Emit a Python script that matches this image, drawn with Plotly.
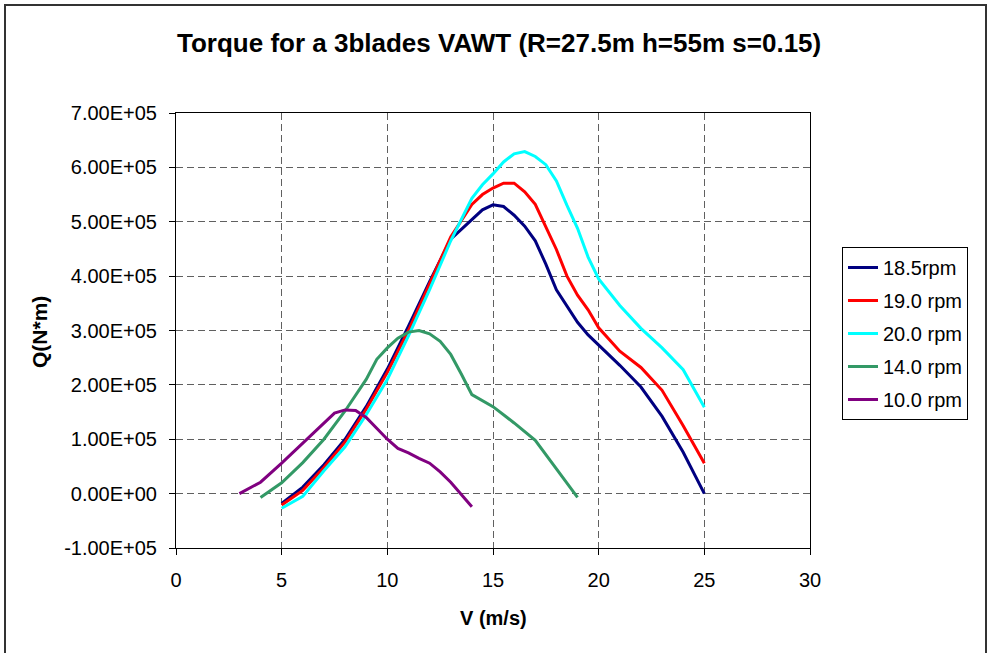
import plotly.graph_objects as go

# ---- data (torque values in units of 1e5 N*m) ----
v_185 = [5, 6, 7, 8, 9, 10, 11, 12, 13, 14, 14.5, 15, 15.5, 16, 16.5, 17, 17.5, 18, 18.5, 19, 19.5, 20, 21, 22, 23, 24, 25]
q_185 = [-0.18, 0.12, 0.53, 1.0, 1.6, 2.29, 3.08, 3.9, 4.68, 5.05, 5.22, 5.31, 5.28, 5.12, 4.92, 4.65, 4.22, 3.75, 3.45, 3.15, 2.92, 2.73, 2.36, 1.96, 1.42, 0.76, 0.0]

v_190 = [5, 6, 7, 8, 9, 10, 11, 12, 13, 14, 14.5, 15, 15.5, 16, 16.5, 17, 17.5, 18, 18.5, 19, 19.5, 20, 21, 22, 23, 24, 25]
q_190 = [-0.21, 0.06, 0.48, 0.95, 1.55, 2.23, 3.0, 3.87, 4.72, 5.32, 5.5, 5.62, 5.71, 5.71, 5.55, 5.32, 4.9, 4.49, 4.0, 3.65, 3.38, 3.05, 2.62, 2.32, 1.9, 1.25, 0.56]

v_200 = [5, 6, 7, 8, 9, 10, 11, 12, 13, 14, 14.5, 15, 15.5, 16, 16.5, 17, 17.5, 18, 18.5, 19, 19.5, 20, 21, 22, 23, 24, 25]
q_200 = [-0.27, -0.05, 0.42, 0.86, 1.45, 2.1, 2.9, 3.75, 4.65, 5.43, 5.68, 5.88, 6.1, 6.25, 6.29, 6.2, 6.05, 5.75, 5.3, 4.88, 4.35, 3.95, 3.46, 3.04, 2.68, 2.28, 1.59]

v_140 = [4, 5, 6, 7, 8, 9, 9.5, 10, 10.5, 11, 11.5, 12, 12.5, 13, 13.5, 14, 15, 16, 17, 18, 19]
q_140 = [-0.07, 0.2, 0.57, 1.0, 1.52, 2.1, 2.47, 2.68, 2.86, 2.97, 3.0, 2.94, 2.8, 2.56, 2.2, 1.82, 1.6, 1.3, 0.98, 0.45, -0.07]

v_100 = [3, 4, 5, 6, 7, 7.5, 8, 8.5, 9, 9.5, 10, 10.5, 11, 11.5, 12, 12.5, 13, 14]
q_100 = [0.0, 0.21, 0.56, 0.93, 1.3, 1.48, 1.54, 1.53, 1.4, 1.19, 1.0, 0.83, 0.75, 0.65, 0.56, 0.4, 0.21, -0.24]

series_names = ["18.5rpm", "19.0 rpm", "20.0 rpm", "14.0 rpm", "10.0 rpm"]
series_colors = ["#000080", "#FF0000", "#00FFFF", "#339966", "#800080"]

y_tick_vals = [-1e5, 0, 1e5, 2e5, 3e5, 4e5, 5e5, 6e5, 7e5]
y_tick_text = ["-1.00E+05", "0.00E+00", "1.00E+05", "2.00E+05", "3.00E+05",
               "4.00E+05", "5.00E+05", "6.00E+05", "7.00E+05"]
x_tick_vals = [0, 5, 10, 15, 20, 25, 30]

title_text = "Torque for a 3blades VAWT (R=27.5m h=55m s=0.15)"
x_title = "V (m/s)"
y_title = "Q(N*m)"

SCALE = 1e5
FONT = "Liberation Sans, Arial, sans-serif"

fig = go.Figure()
all_v = [v_185, v_190, v_200, v_140, v_100]
all_q = [q_185, q_190, q_200, q_140, q_100]
for i, (vv, qq) in enumerate(zip(all_v, all_q)):
    fig.add_trace(go.Scatter(
        x=vv, y=[q * SCALE for q in qq], mode="lines",
        name=series_names[i], legendgroup=f"g{i}",
        line=dict(color=series_colors[i], width=3),
    ))

L, R, T, B = 176, 181, 113, 105
W, H = 991, 653
pw = W - L - R
ph = H - T - B

def px_x(p):
    return (p - L) / pw

def px_y(p):
    return (H - B - p) / ph

fig.update_layout(
    width=W, height=H,
    margin=dict(l=L, r=R, t=T, b=B, pad=0),
    paper_bgcolor="white", plot_bgcolor="white",
    font=dict(family=FONT, size=20, color="black"),
    showlegend=True,
    legend=dict(
        x=px_x(842), y=px_y(247), xanchor="left", yanchor="top",
        bordercolor="black", borderwidth=1, bgcolor="white",
        font=dict(family=FONT, size=20, color="black"),
        tracegroupgap=4,
    ),
    xaxis=dict(
        range=[0, 30], tickvals=x_tick_vals, showgrid=True,
        gridcolor="#606060", griddash="7px,4px", gridwidth=1,
        showline=True, linecolor="black", linewidth=1, mirror=True,
        ticks="outside", ticklen=6, tickcolor="black",
        zeroline=False, ticklabelstandoff=8,
        tickfont=dict(family=FONT, size=20),
    ),
    yaxis=dict(
        range=[-1e5, 7e5], tickvals=y_tick_vals, ticktext=y_tick_text,
        showgrid=True, gridcolor="#606060", griddash="7px,4px", gridwidth=1,
        showline=True, linecolor="black", linewidth=1, mirror=True,
        ticks="outside", ticklen=6, tickcolor="black",
        zeroline=False, ticklabelstandoff=8,
        tickfont=dict(family=FONT, size=20),
    ),
    annotations=[
        dict(text=f"<b>{title_text}</b>", xref="paper", yref="paper",
             x=px_x(499), y=px_y(43), xanchor="center", yanchor="middle",
             showarrow=False, font=dict(family=FONT, size=26, color="black")),
        dict(text=f"<b>{x_title}</b>", xref="paper", yref="paper",
             x=px_x(493), y=px_y(618), xanchor="center", yanchor="middle",
             showarrow=False, font=dict(family=FONT, size=20, color="black")),
        dict(text=f"<b>{y_title}</b>", xref="paper", yref="paper",
             x=px_x(39), y=px_y(332), xanchor="center", yanchor="middle",
             textangle=-90,
             showarrow=False, font=dict(family=FONT, size=21, color="black")),
    ],
    shapes=[
        dict(type="rect", xref="paper", yref="paper",
             x0=px_x(5), x1=px_x(986), y0=px_y(670), y1=px_y(5),
             line=dict(color="#333333", width=2), fillcolor="rgba(0,0,0,0)",
             layer="below"),
    ],
)

fig.write_html("out.html")
